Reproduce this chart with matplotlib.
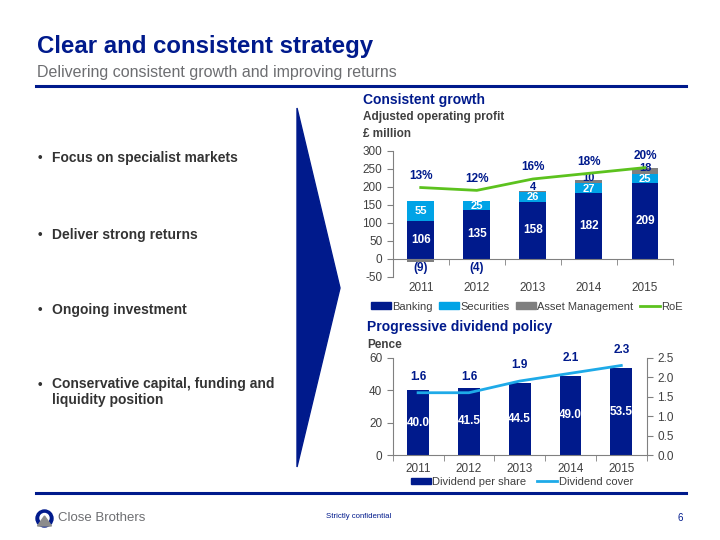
import matplotlib
matplotlib.use("Agg")
import matplotlib.pyplot as plt
from matplotlib.patches import Polygon, Ellipse, Patch
from matplotlib.lines import Line2D
import numpy as np

# Data
years = ["2011", "2012", "2013", "2014", "2015"]
banking = [106, 135, 158, 182, 209]
securities = [55, 25, 26, 27, 25]
asset_mgmt = [-9, -4, 4, 10, 18]
roe = [13, 12, 16, 18, 20]
dps = [40.0, 41.5, 44.5, 49.0, 53.5]
div_cover = [1.6, 1.6, 1.9, 2.1, 2.3]
bullets = ["Focus on specialist markets", "Deliver strong returns",
           "Ongoing investment", "Conservative capital, funding and\nliquidity position"]

NAVY = "#001a8c"
LIGHT = "#00a3e6"
GREY = "#7f7f7f"
GREEN = "#5cc21e"
COVER = "#1eaae8"
TXT = "#404040"

plt.rcParams["font.family"] = ["Liberation Sans", "DejaVu Sans"]
plt.rcParams["axes.unicode_minus"] = False

W, H = 720, 540
fig = plt.figure(figsize=(7.2, 5.4), dpi=100)


def fx(x):
    return x / W


def fy(y):
    return 1 - y / H


# en-tete / pied de page
fig.text(fx(37), fy(47), "Clear and consistent strategy", fontsize=17.3,
         fontweight="bold", color=NAVY, va="center")
fig.text(fx(37), fy(73), "Delivering consistent growth and improving returns",
         fontsize=11.5, color="#6d6e71", va="center")
fig.add_artist(Line2D([fx(36), fx(686)], [fy(86), fy(86)], color=NAVY, lw=2.2))
fig.add_artist(Line2D([fx(36), fx(686)], [fy(492.5), fy(492.5)], color=NAVY, lw=2.2))

# logo
fig.add_artist(Ellipse((fx(44.5), fy(518.5)), 17 / W, 17 / H, transform=fig.transFigure, color=NAVY))
fig.add_artist(Ellipse((fx(44.5), fy(518)), 9 / W, 9 / H, transform=fig.transFigure, color="white"))
fig.add_artist(Polygon([(fx(37.5), fy(526)), (fx(44.5), fy(516)), (fx(51.5), fy(526))],
                       closed=True, transform=fig.transFigure, color="#8c8c8c"))
fig.text(fx(58), fy(518), "Close Brothers", fontsize=9.5, color="#6d6e71", va="center")
fig.text(fx(359), fy(517), "Strictly confidential", fontsize=5.6, color=NAVY, ha="center", va="center")
fig.text(fx(680), fy(518), "6", fontsize=7, color=NAVY, ha="center", va="center")

# fleche
fig.add_artist(Polygon([(fx(297), fy(108)), (fx(340), fy(288)), (fx(297), fy(467))],
                       closed=True, transform=fig.transFigure, color=NAVY))

# puces
for txt, y in zip(bullets, [158, 235, 310, 385]):
    fig.text(fx(40), fy(y), "\u2022", fontsize=9.5, color="#333333", va="center", ha="center",
             fontweight="bold")
    if "\n" in txt:
        fig.text(fx(52), fy(y - 8), txt, fontsize=10, color="#333333", va="top",
                 fontweight="bold", linespacing=1.15)
    else:
        fig.text(fx(52), fy(y), txt, fontsize=10, color="#333333", va="center", fontweight="bold")

# ---- Graphique 1 : resultat operationnel
fig.text(fx(363), fy(100), "Consistent growth", fontsize=10, fontweight="bold", color=NAVY, va="center")
fig.text(fx(363), fy(117), "Adjusted operating profit", fontsize=8.5, fontweight="bold", color=TXT, va="center")
fig.text(fx(363), fy(134), "\u00a3 million", fontsize=8.5, fontweight="bold", color=TXT, va="center")

ax1 = fig.add_axes([fx(392.7), fy(276.7), (673 - 392.7) / W, (276.7 - 150.7) / H])
x = np.arange(len(years))
bw = 0.48
b = np.array(banking)
s = np.array(securities)
am = np.array(asset_mgmt)
ax1.bar(x, b, bw, color=NAVY)
ax1.bar(x, s, bw, bottom=b, color=LIGHT)
am_bottom = np.where(am > 0, b + s, 0)
ax1.bar(x, am, bw, bottom=am_bottom, color=GREY)
for i in range(len(x)):
    ax1.text(x[i], b[i] / 2, str(b[i]), color="white", fontsize=8.5, fontweight="bold", ha="center", va="center")
    ax1.text(x[i], b[i] + s[i] / 2 - 1, str(s[i]), color="white", fontsize=8, fontweight="bold",
             ha="center", va="center")
    if am[i] > 0:
        top = b[i] + s[i] + am[i]
        ax1.text(x[i], top + 14 - am[i] * 0.8, str(am[i]), color=NAVY, fontsize=8, fontweight="bold",
                 ha="center", va="center")
    else:
        ax1.text(x[i], -25, "(%d)" % -am[i], color=NAVY, fontsize=8.5, fontweight="bold",
                 ha="center", va="center")
ax1.set_xlim(-0.49, 4.42)
ax1.set_ylim(-50, 300)
ax1.set_yticks(np.arange(-50, 301, 50))
ax1.spines["top"].set_visible(False)
ax1.spines["right"].set_visible(False)
ax1.spines["bottom"].set_position(("data", 0))
for sp in ["left", "bottom"]:
    ax1.spines[sp].set_color("#808080")
    ax1.spines[sp].set_linewidth(0.8)
ax1.set_xticks(x)
ax1.set_xticklabels(years)
ax1.set_xticks(np.arange(-0.5, 4.6, 1), minor=True)
ax1.tick_params(axis="x", which="major", length=0, pad=17, labelsize=8.5, labelcolor=TXT)
ax1.tick_params(axis="x", which="minor", length=4, color="#808080")
ax1.tick_params(axis="y", length=4, color="#808080", labelsize=8.5, labelcolor=TXT)
ax1.patch.set_alpha(0)

ax1r = ax1.twinx()
ax1r.plot(x, roe, color=GREEN, lw=2)
ax1r.set_ylim((-50 - 95) / 7.9, (300 - 95) / 7.9)
for i in range(len(x)):
    ax1r.annotate("%d%%" % roe[i], (x[i], roe[i]), xytext=(0, 8.5), textcoords="offset points",
                  color=NAVY, fontsize=8.5, fontweight="bold", ha="center", va="center")
ax1r.axis("off")

h1 = [Patch(color=NAVY), Patch(color=LIGHT), Patch(color=GREY), Line2D([], [], color=GREEN, lw=2)]
fig.legend(h1, ["Banking", "Securities", "Asset Management", "RoE"], loc="center",
           bbox_to_anchor=(fx(527), fy(306.7)), ncol=4, frameon=False, fontsize=8,
           handlelength=1.8, handleheight=0.55, handletextpad=0.1, columnspacing=0.6,
           labelcolor=TXT)

# ---- Graphique 2 : dividende
fig.text(fx(367), fy(327), "Progressive dividend policy", fontsize=10, fontweight="bold", color=NAVY,
         va="center")
fig.text(fx(367), fy(345), "Pence", fontsize=8.5, fontweight="bold", color=TXT, va="center")

ax2 = fig.add_axes([fx(392.7), fy(455), (646.7 - 392.7) / W, (455 - 357.7) / H])
ax2.bar(x, dps, 0.43, color=NAVY)
for i in range(len(x)):
    ax2.text(x[i], dps[i] / 2, "%.1f" % dps[i], color="white", fontsize=8.5, fontweight="bold",
             ha="center", va="center")
ax2.set_xlim(-0.45, 4.49)
ax2.set_ylim(0, 60)
ax2.set_yticks([0, 20, 40, 60])
ax2.spines["top"].set_visible(False)
ax2.spines["right"].set_visible(False)
for sp in ["left", "bottom"]:
    ax2.spines[sp].set_color("#808080")
    ax2.spines[sp].set_linewidth(0.8)
ax2.set_xticks(x)
ax2.set_xticklabels(years)
ax2.set_xticks(np.arange(-0.5, 4.6, 1), minor=True)
ax2.tick_params(axis="x", which="major", length=0, pad=6, labelsize=8.5, labelcolor=TXT)
ax2.tick_params(axis="x", which="minor", length=4, color="#808080")
ax2.tick_params(axis="y", length=4, color="#808080", labelsize=8.5, labelcolor=TXT)

ax2r = ax2.twinx()
ax2r.plot(x, div_cover, color=COVER, lw=2)
ax2r.set_ylim(0, 2.5)
ax2r.set_yticks(np.arange(0, 2.51, 0.5))
ax2r.yaxis.set_major_formatter(matplotlib.ticker.FormatStrFormatter("%.1f"))
ax2r.spines["top"].set_visible(False)
ax2r.spines["left"].set_visible(False)
ax2r.spines["bottom"].set_visible(False)
ax2r.spines["right"].set_color("#808080")
ax2r.spines["right"].set_linewidth(0.8)
ax2r.tick_params(axis="y", length=4, color="#808080", labelsize=8.5, labelcolor=TXT)
for i in range(len(x)):
    ax2r.annotate("%.1f" % div_cover[i], (x[i], div_cover[i]), xytext=(0, 7), textcoords="offset points",
                  color=NAVY, fontsize=8.5, fontweight="bold", ha="center", va="bottom")

h2 = [Patch(color=NAVY), Line2D([], [], color=COVER, lw=2)]
fig.legend(h2, ["Dividend per share", "Dividend cover"], loc="center",
           bbox_to_anchor=(fx(522), fy(482)), ncol=2, frameon=False, fontsize=8,
           handlelength=1.8, handleheight=0.55, handletextpad=0.1, columnspacing=1.0,
           labelcolor=TXT)

fig.savefig("out.png", dpi=100)
